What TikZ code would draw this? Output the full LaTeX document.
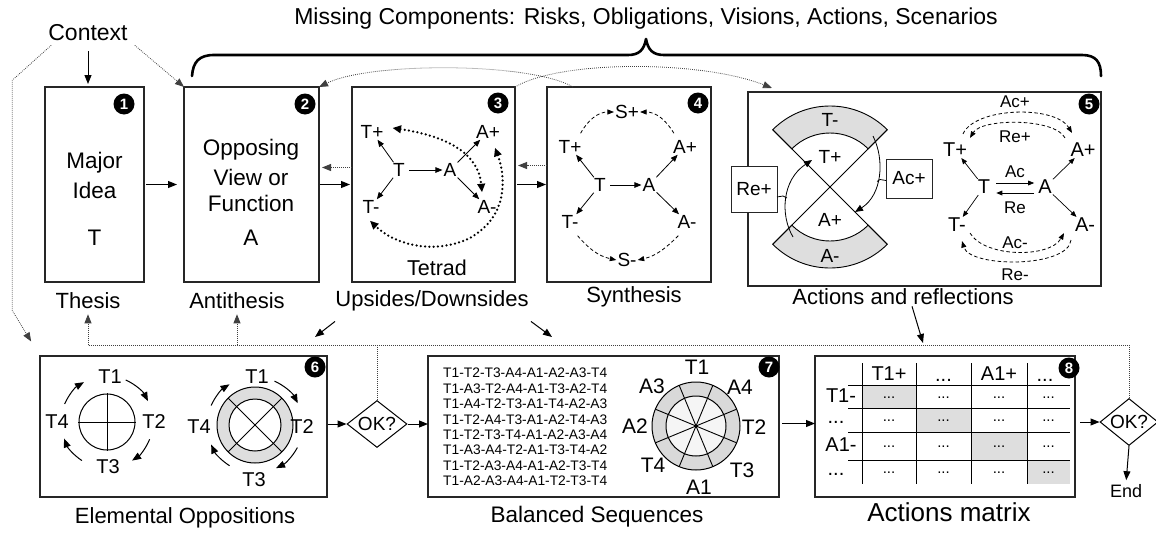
\documentclass[tikz,border=0pt]{standalone}
\usepackage{fontspec}
\setmainfont{Liberation Sans}
\usetikzlibrary{arrows.meta,shapes.geometric,calc}
\newcommand{\fsz}[1]{\fontsize{#1}{#1}\selectfont}
\begin{document}
\begin{tikzpicture}[x=1pt,y=-1pt,
  txt/.style={inner sep=1pt, font=\fsz{#1}},
  txt/.default=22,
  boxfr/.style={draw=black!85, line width=1.3pt, inner sep=0pt, outer sep=0pt, rectangle},
  numc/.style={circle, fill=black, text=white, inner sep=0pt, minimum size=21pt, font=\bfseries\fsz{15}},
  arr/.style={-{Triangle[length=9pt,width=7pt]}, line width=1pt},
  sarr/.style={-{Triangle[length=7pt,width=5.5pt]}, line width=0.8pt},
  farr/.style={-{Triangle[length=6pt,width=4.8pt]}, line width=0.7pt},
  dotl/.style={line width=0.8pt, black!75, dash pattern=on 0.8pt off 1.2pt},
  dotarr/.style={dotl, -{Triangle[length=9pt,width=7pt]}},
  bigdot/.style={line width=2.5pt, dash pattern=on 0pt off 4.3pt, line cap=round,
     {Triangle[length=8.5pt,width=7.5pt]}-{Triangle[length=8.5pt,width=7.5pt]}},
  dasharr/.style={line width=0.8pt, dash pattern=on 3.5pt off 2.5pt, -{Triangle[length=6.5pt,width=5pt]}},
  ringfill/.style={fill=black!13},
]
\useasboundingbox (0,0) rectangle (1156,533);

% ---------- heading and brace ----------
\node[txt=23] (mc) at (646,19) {Missing Components: Risks, Obligations, Visions, Actions, Scenarios};
\draw[line width=2.6pt, line cap=round, line join=round]
  (192,76) .. controls (193,62) and (199,55) .. (214,55) -- (628,55)
  .. controls (639,55) and (644,50) .. (646,39)
  .. controls (648,50) and (653,55) .. (664,55) -- (1082,55)
  .. controls (1096,55) and (1101,62) .. (1101,76);

% ---------- top row boxes ----------
\node[boxfr, minimum width=99pt, minimum height=195pt] (b1) at (94.5,184.5) {};
\node[boxfr, minimum width=135pt, minimum height=195pt] (b2) at (251.5,184.5) {};
\node[boxfr, minimum width=163pt, minimum height=195pt] (b3) at (433.5,184.5) {};
\node[boxfr, minimum width=164pt, minimum height=195pt] (b4) at (629,184.5) {};
\node[boxfr, minimum width=353pt, minimum height=194pt] (b5) at (924.5,189) {};

% ---------- bottom row boxes ----------
\node[boxfr, minimum width=287pt, minimum height=141pt] (b6) at (183.5,426.5) {};
\node[boxfr, minimum width=351pt, minimum height=141pt] (b7) at (603.5,426.5) {};
\node[boxfr, minimum width=260pt, minimum height=141pt] (b8) at (945,426.5) {};

% ---------- captions ----------
\node[txt=23] (ctx) at (88,33) {Context};
\node[txt] (thesis) at (88,301) {Thesis};
\node[txt] (anti) at (237,301) {Antithesis};
\node[txt] (updown) at (432,301) {Upsides/Downsides};
\node[txt] (synth) at (634,297) {Synthesis};
\node[txt] (actrefl) at (903,297) {Actions and reflections};
\node[txt] (elem) at (185,518) {Elemental Oppositions};
\node[txt=22.5] (balseq) at (597,517) {Balanced Sequences};
\node[txt=26] (actmat) at (949,512) {Actions matrix};

% ---------- box 1 ----------
\node[txt=22.5] (maj) at (94.5,163) {Major};
\node[txt=22.5] (idea) at (94.5,190) {Idea};
\node[txt=22.5] (tT) at (94.5,238) {T};
% ---------- box 2 ----------
\node[txt=22.5] (opp) at (251,150) {Opposing};
\node[txt=22.5] (view) at (251,177) {View or};
\node[txt=22.5] (func) at (251,203) {Function};
\node[txt=22.5] (tA) at (251,238) {A};

% ---------- box 3: tetrad ----------
\node[txt=19] (T3) at (399,170) {T};
\node[txt=19] (A3) at (450,170) {A};
\node[txt=19] (T3p) at (372,132) {T+};
\node[txt=19] (A3p) at (488,132) {A+};
\node[txt=19] (T3m) at (371,207) {T-};
\node[txt=19] (A3m) at (487,207) {A-};
\node[txt=21.5] (tetrad) at (437,268) {Tetrad};
\draw[sarr, shorten <=3pt] (T3) -- (A3);
\draw[sarr] (T3) -- (T3p);
\draw[sarr] (T3) -- (T3m);
\draw[sarr] (A3) -- (A3p);
\draw[sarr] (A3) -- (A3m);
\draw[bigdot] ([shift={(8pt,4pt)}]T3p.east) .. controls (440,135) and (478,150) .. ([shift={(-5pt,7pt)}]A3m.north);
\draw[bigdot] ([shift={(7pt,-8pt)}]A3p.south) .. controls (505,175) and (510,215) .. (470,238)
  .. controls (435,255) and (395,245) .. ([shift={(-1pt,-6pt)}]T3m.south);

% ---------- box 4: synthesis ----------
\node[txt=19] (T4) at (600,185) {T};
\node[txt=19] (A4) at (649,185) {A};
\node[txt=19] (T4p) at (570,147) {T+};
\node[txt=19] (A4p) at (685,147) {A+};
\node[txt=19] (T4m) at (570,222) {T-};
\node[txt=19] (A4m) at (687,222) {A-};
\node[txt=19] (S4p) at (627,112) {S+};
\node[txt=19] (S4m) at (627,260) {S-};
\draw[sarr, shorten <=3pt] (T4) -- (A4);
\draw[sarr] (T4) -- (T4p);
\draw[sarr] (T4) -- (T4m);
\draw[sarr] (A4) -- (A4p);
\draw[sarr] (A4) -- (A4m);
\draw[dasharr] ([shift={(-2pt,6pt)}]T4p.north east) .. controls (588,120) and (598,112) .. (S4p.west);
\draw[dasharr] ([shift={(2pt,6pt)}]A4p.north west) .. controls (666,120) and (656,112) .. (S4p.east);
\draw[dasharr] ([shift={(-2pt,-6pt)}]T4m.south east) .. controls (588,248) and (598,256) .. (S4m.west);
\draw[dasharr] ([shift={(2pt,-6pt)}]A4m.south west) .. controls (666,248) and (656,256) .. (S4m.east);

% ---------- box 5: actions and reflections ----------
\filldraw[ringfill, draw=black, line width=0.9pt]
  ([shift={(830,187)}]-45:81) arc[start angle=-45, end angle=-135, radius=81]
  -- ([shift={(830,187)}]-135:54) arc[start angle=-135, end angle=-45, radius=54] -- cycle;
\filldraw[ringfill, draw=black, line width=0.9pt]
  ([shift={(830,187)}]45:81) arc[start angle=45, end angle=135, radius=81]
  -- ([shift={(830,187)}]135:54) arc[start angle=135, end angle=45, radius=54] -- cycle;
\draw[line width=1pt] ([shift={(830,187)}]-135:81) -- ([shift={(830,187)}]45:81);
\draw[line width=1pt] ([shift={(830,187)}]-45:81) -- ([shift={(830,187)}]135:81);
\draw[-{Triangle[length=8pt,width=6.5pt]}, line width=0.8pt] (793,237) .. controls (780,215) and (782,180) .. (812,160);
\draw[-{Triangle[length=8pt,width=6.5pt]}, line width=0.8pt] (873,136) .. controls (885,160) and (882,195) .. (855,212);
\node[txt=19] (rTm) at (830,120) {T-};
\node[txt=19] (rTp) at (830,157) {T+};
\node[txt=19] (rAp) at (830,220) {A+};
\node[txt=19] (rAm) at (830,256) {A-};
\node[boxfr, line width=1pt, fill=white, minimum width=46pt, minimum height=39pt, font=\fsz{19}] (acp) at (909,178.5) {Ac+};
\node[boxfr, line width=1pt, fill=white, minimum width=46pt, minimum height=46pt, font=\fsz{19}] (rep) at (754,189) {Re+};
\draw[line width=0.8pt] ([yshift=-2pt]acp.west) -- ++(-6,-1) -- ++(-3,2);
\draw[line width=0.8pt] ([yshift=-8pt]rep.east) -- ++(6,-1) -- ++(4,2);

\node[txt=20] (T5) at (984,187) {T};
\node[txt=20] (A5) at (1045,187) {A};
\node[txt=20] (T5p) at (955,150) {T+};
\node[txt=20] (A5p) at (1083,150) {A+};
\node[txt=20] (T5m) at (957,225) {T-};
\node[txt=20] (A5m) at (1085,225) {A-};
\node[txt=17] (lAc) at (1015,172) {Ac};
\node[txt=17] (lRe) at (1015,208) {Re};
\node[txt=17] (lAcp) at (1015,102) {Ac+};
\node[txt=17] (lRep) at (1015,137) {Re+};
\node[txt=17] (lAcm) at (1015,243) {Ac-};
\node[txt=17] (lRem) at (1015,275) {Re-};
\draw[farr, shorten <=5pt, shorten >=3pt] ([yshift=4pt]T5.east) -- ([yshift=4pt]A5.west);
\draw[farr, shorten <=3pt, shorten >=5pt] ([yshift=-6pt]A5.west) -- ([yshift=-6pt]T5.east);
\draw[farr] (T5) -- (T5p);
\draw[farr] (T5) -- (T5m);
\draw[farr] (A5) -- (A5p);
\draw[farr] (A5) -- (A5m);
\draw[dasharr] ([shift={(8pt,8pt)}]T5p.north) .. controls (975,107) and (1055,105) .. ([shift={(-11pt,9pt)}]A5p.north);
\draw[dasharr] ([shift={(-18pt,4pt)}]A5p.north) .. controls (1055,118) and (982,118) .. ([shift={(15pt,4pt)}]T5p.north);
\draw[dasharr] ([shift={(13pt,0pt)}]T5m.south) .. controls (985,258) and (1050,258) .. ([shift={(-21pt,0pt)}]A5m.south);
\draw[dasharr] ([shift={(-14pt,-7pt)}]A5m.south) .. controls (1068,268) and (970,268) .. ([shift={(5pt,-8pt)}]T5m.south);

% ---------- box 6: elemental oppositions ----------
\draw[line width=1pt] (107,422) circle[radius=28];
\draw[line width=1pt] (78,422) -- (136,422);
\draw[line width=1pt] (107,393) -- (107,451);
\node[txt=20] (e1) at (110,377) {T1};
\node[txt=20] (e2) at (154,422) {T2};
\node[txt=20] (e3) at (108,467) {T3};
\node[txt=20] (e4) at (57,422) {T4};
\draw[arr] ([shift={(107,422)}]-157:46) arc[start angle=-157, end angle=-120, radius=46];
\draw[arr] ([shift={(107,422)}]-66:46) arc[start angle=-66, end angle=-27, radius=46];
\draw[arr] ([shift={(107,422)}]22:46) arc[start angle=22, end angle=57, radius=46];
\draw[arr] ([shift={(107,422)}]123:46) arc[start angle=123, end angle=159, radius=46];

\filldraw[ringfill, draw=black, line width=1pt] (255,425) circle[radius=38];
\filldraw[fill=white, draw=black, line width=1pt] (255,425) circle[radius=26];
\draw[line width=1pt] ([shift={(255,425)}]-45:38) -- ([shift={(255,425)}]135:38);
\draw[line width=1pt] ([shift={(255,425)}]-135:38) -- ([shift={(255,425)}]45:38);
\node[txt=20] (f1) at (257,377) {T1};
\node[txt=20] (f2) at (302,427) {T2};
\node[txt=20] (f3) at (254,480) {T3};
\node[txt=20] (f4) at (199,427) {T4};
\draw[arr] ([shift={(255,425)}]-156:48) arc[start angle=-156, end angle=-122, radius=48];
\draw[arr] ([shift={(255,425)}]-66:48) arc[start angle=-66, end angle=-27, radius=48];
\draw[arr] ([shift={(255,425)}]28:48) arc[start angle=28, end angle=64, radius=48];
\draw[arr] ([shift={(255,425)}]122:48) arc[start angle=122, end angle=156, radius=48];

% ---------- box 7: balanced sequences ----------
\node[font=\fontsize{13.8}{15.45}\selectfont, align=left, anchor=west, inner sep=0pt] (seq) at (443,427)
 {T1-T2-T3-A4-A1-A2-A3-T4\\T1-A3-T2-A4-A1-T3-A2-T4\\T1-A4-T2-T3-A1-T4-A2-A3\\T1-T2-A4-T3-A1-A2-T4-A3\\
  T1-T2-T3-T4-A1-A2-A3-A4\\T1-A3-A4-T2-A1-T3-T4-A2\\T1-T2-A3-A4-A1-A2-T3-T4\\T1-A2-A3-A4-A1-T2-T3-T4};
\fill[black!15] (696,426) circle[radius=44];
\fill[black!4] (696,426) circle[radius=30];
\foreach \a in {22.5,67.5,112.5,157.5}
  \draw[line width=0.9pt] ([shift={(696,426)}]\a:44) -- ([shift={(696,426)}]\a+180:44);
\draw[line width=1pt] (696,426) circle[radius=44];
\draw[line width=1pt] (696,426) circle[radius=30];
\node[txt=21] (s1) at (697,367) {T1};
\node[txt=21] (s2) at (740,387) {A4};
\node[txt=21] (s3) at (754,427) {T2};
\node[txt=21] (s4) at (742,470) {T3};
\node[txt=21] (s5) at (699,487) {A1};
\node[txt=21] (s6) at (653,465) {T4};
\node[txt=21] (s7) at (635,426) {A2};
\node[txt=21] (s8) at (652,386) {A3};

% ---------- box 8: actions matrix ----------
\fill[black!13] (862,385) rectangle (916,408);
\fill[black!13] (916,408) rectangle (971,432);
\fill[black!13] (971,432) rectangle (1027,460);
\fill[black!13] (1027,460) rectangle (1070,484);
\foreach \x in {862,916,971,1027} \draw[line width=1pt] (\x,363) -- (\x,484);
\foreach \y in {385,408,432,460} \draw[line width=1pt] (848,\y) -- (1070,\y);
\node[txt=20] (h1) at (889,374) {T1+};
\node[txt=20, anchor=base] (h2) at (943.5,381) {...};
\node[txt=20] (h3) at (999,374) {A1+};
\node[txt=20, anchor=base] (h4) at (1045,381) {...};
\node[txt=20] (r1) at (841,396) {T1-};
\node[txt=20, anchor=base] (r2) at (836,423) {...};
\node[txt=20] (r3) at (841,445) {A1-};
\node[txt=20, anchor=base] (r4) at (836,475) {...};
\foreach \x in {889,943.5,999,1048.5}
  \foreach \y in {398,421.5,447.5,473.5}
    \node[txt=15, anchor=base] at (\x,\y) {...};

% ---------- decisions ----------
\node[draw, line width=1pt, diamond, shape aspect=1.3, minimum width=60pt, minimum height=47pt, inner sep=0pt, font=\fsz{19}] (ok1) at (377,424) {OK?};
\node[draw, line width=1pt, diamond, shape aspect=1.3, minimum width=58pt, minimum height=47pt, inner sep=0pt, font=\fsz{19}] (ok2) at (1129,422) {OK?};
\node[txt=18] (endn) at (1126,491) {End};

% ---------- box numbers ----------
\node[numc] (n1) at (124,104) {1};
\node[numc] (n2) at (305,104) {2};
\node[numc] (n3) at (498,103) {3};
\node[numc] (n4) at (698,103) {4};
\node[numc] (n5) at (1089,104) {5};
\node[numc] (n6) at (315,367) {6};
\node[numc] (n7) at (769,367) {7};
\node[numc] (n8) at (1069,368) {8};

% ---------- flow, top row ----------
\draw[arr, shorten <=9pt, shorten >=3pt] (ctx.south) -- (ctx.south |- b1.north);
\draw[dotarr] ([shift={(6pt,-3pt)}]ctx.south east) -- (b2.north west);
\draw[dotl, -{Triangle[length=9pt,width=7pt]}, shorten >=17pt]
  ([shift={(4pt,-3pt)}]ctx.south west) -- ++(-39,35) -- ++(0,230) -- (b6.north west);
\draw[arr, shorten <=2pt, shorten >=7pt] (b1.east) -- (b2.west);
\draw[arr, shorten <=1pt, shorten >=2pt] (b2.east) -- (b3.west);
\draw[dotarr, shorten >=3pt] ([yshift=17pt]b3.west) -- ([yshift=17pt]b2.east);
\draw[arr, shorten <=2pt, shorten >=1pt] (b3.east) -- (b4.west);
\draw[dotarr, shorten >=3pt] ([yshift=19pt]b4.west) -- ([yshift=19pt]b3.east);
\draw[dotarr] ([xshift=26pt]b4.north west) .. controls (530,62) and (370,62) .. (b2.north east);
\draw[dotarr] (b3.north east) .. controls (560,60) and (700,60) .. ([shift={(24pt,4pt)}]b5.north west);

% ---------- flow, bottom row ----------
\coordinate (fb) at (88,345);
\coordinate (ud6) at (315,337);
\coordinate (ud7) at (552,337);
\coordinate (ar8) at (923,343);
\draw[dotl] (ok2.north) -- (ok2.north |- fb) -- (fb);
\draw[dotl] (ok1.north) -- (ok1.north |- fb);
\draw[dotarr, shorten >=4pt] (fb) -- (thesis.south);
\draw[dotarr, shorten >=4pt] (fb -| anti) -- (anti.south);
\draw[arr] ([xshift=-97pt,yshift=-9pt]updown.south) -- (ud6);
\draw[arr] ([xshift=99pt,yshift=-9pt]updown.south) -- (ud7);
\draw[arr] ([xshift=9pt]actrefl.south) -- (ar8);
\draw[arr, shorten <=1pt] (ok1.west -| b6.east) -- (ok1.west);
\draw[arr] (ok1.east) -- (ok1.east -| b7.west);
\draw[arr, shorten <=3pt] ([yshift=3pt]b7.east) -- ([yshift=3pt]b8.west);
\draw[arr, shorten <=5pt] (b8.east |- ok2.west) -- (ok2.west);
\draw[arr, shorten >=3pt] (ok2.south) -- (endn.north);
\end{tikzpicture}
\end{document}
